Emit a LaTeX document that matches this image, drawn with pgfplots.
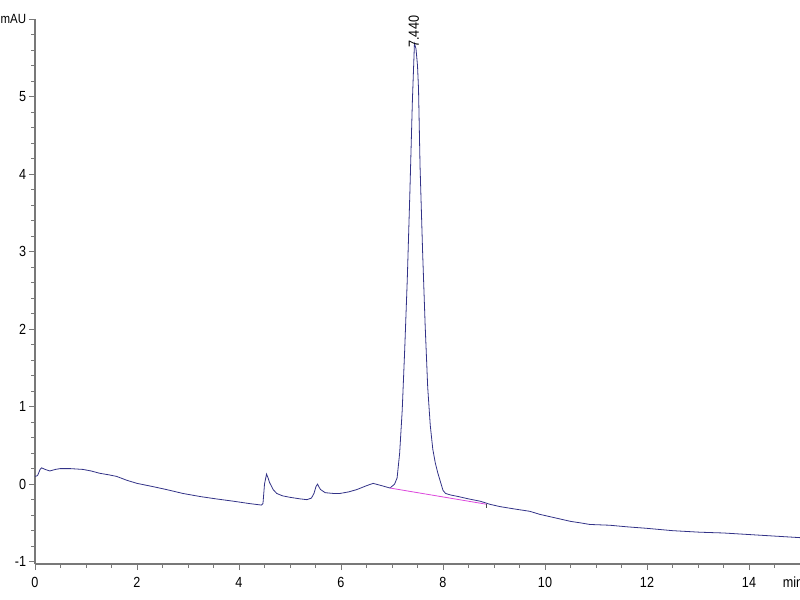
\documentclass[border=0pt]{standalone}
\usepackage{pgfplots}
\pgfplotsset{compat=1.18}
\usepackage{fontspec}
\setmainfont{Liberation Sans}[FakeStretch=0.86]
\definecolor{trace}{RGB}{50,50,135}
\definecolor{basel}{RGB}{220,70,220}
\definecolor{axgray}{RGB}{120,120,120}
\begin{document}
\begin{tikzpicture}
\begin{axis}[
  at={(26.25pt,27pt)}, anchor=south west,
  scale only axis, width=573.75pt, height=408.75pt,
  xmin=0, xmax=15, ymin=-1.03, ymax=6,
  axis lines=left, axis line style={-, axgray, line width=0.8pt},
  tick align=outside, tick style={axgray, line width=0.6pt},
  major tick length=4.5pt, minor tick length=2.8pt,
  xtick={0,2,4,6,8,10,12,14},
  minor xtick={0.5,1,1.5,2.5,3,3.5,4.5,5,5.5,6.5,7,7.5,8.5,9,9.5,10.5,11,11.5,12.5,13,13.5,14.5},
  ytick={-1,0,1,2,3,4,5,6},
  yticklabels={-1,0,1,2,3,4,5,{\fontsize{10}{12}\selectfont mAU}},
  minor y tick num=4,
  /pgf/number format/assume math mode=true,
  tick label style={font=\fontsize{11}{12}\selectfont, black},
  xticklabel style={yshift=-2pt},
  yticklabel style={inner sep=1pt, xshift=-1pt},
  clip=false,
]
\addplot[trace, line width=0.6pt] coordinates {
(0.00,0.10) (0.05,0.11) (0.10,0.19) (0.13,0.21) (0.20,0.19) (0.29,0.17) (0.40,0.19)
(0.49,0.20) (0.70,0.20) (0.94,0.19) (1.10,0.17) (1.27,0.14) (1.45,0.12) (1.60,0.10)
(1.80,0.05) (2.00,0.01) (2.30,-0.03) (2.58,-0.07) (2.90,-0.12) (3.24,-0.16) (3.55,-0.19)
(3.89,-0.22) (4.20,-0.25) (4.44,-0.27) (4.47,-0.25) (4.50,0.00) (4.54,0.13) (4.57,0.08)
(4.60,0.02) (4.67,-0.07) (4.74,-0.12) (4.85,-0.15) (5.00,-0.17) (5.20,-0.19) (5.33,-0.20)
(5.42,-0.18) (5.47,-0.12) (5.51,-0.03) (5.54,0.00) (5.57,-0.04) (5.60,-0.07) (5.69,-0.11)
(5.85,-0.12) (5.98,-0.12) (6.15,-0.10) (6.31,-0.07) (6.50,-0.02) (6.63,0.01) (6.80,-0.02)
(6.96,-0.05) (7.05,0.00) (7.10,0.08) (7.15,0.40) (7.20,0.95) (7.25,1.75) (7.30,2.65)
(7.35,3.75) (7.40,4.95) (7.44,5.68) (7.47,5.62) (7.50,5.40) (7.52,5.10) (7.55,4.10)
(7.60,3.00) (7.65,2.05) (7.70,1.25) (7.75,0.76) (7.80,0.45) (7.85,0.27) (7.90,0.14)
(7.95,0.03) (8.00,-0.08) (8.05,-0.12) (8.15,-0.14) (8.30,-0.16) (8.50,-0.19) (8.73,-0.22)
(8.92,-0.26) (9.12,-0.29) (9.40,-0.32) (9.70,-0.35) (9.90,-0.39) (10.10,-0.42) (10.30,-0.45)
(10.50,-0.48) (10.70,-0.50) (10.88,-0.52) (11.27,-0.53) (11.60,-0.55) (12.00,-0.57)
(12.50,-0.60) (13.04,-0.62) (13.50,-0.63) (14.00,-0.65) (14.50,-0.67) (15.00,-0.69)
};
\addplot[basel, line width=0.6pt] coordinates {(6.96,-0.05) (8.86,-0.26)};
\addplot[black!70, line width=0.5pt] coordinates {(8.84,-0.25) (8.84,-0.31)};
\node[rotate=90, anchor=west, inner sep=0.5pt, font=\fontsize{11}{12}\selectfont] at (axis cs:7.43,5.62) {7.440};
\node[anchor=west, inner sep=0pt, font=\fontsize{11}{12}\selectfont] at (axis cs:14.66,-1.03) [yshift=-14pt] {min};
\end{axis}
\pgfresetboundingbox
\path[use as bounding box] (0,0) rectangle (600pt,450pt);
\end{tikzpicture}
\end{document}
